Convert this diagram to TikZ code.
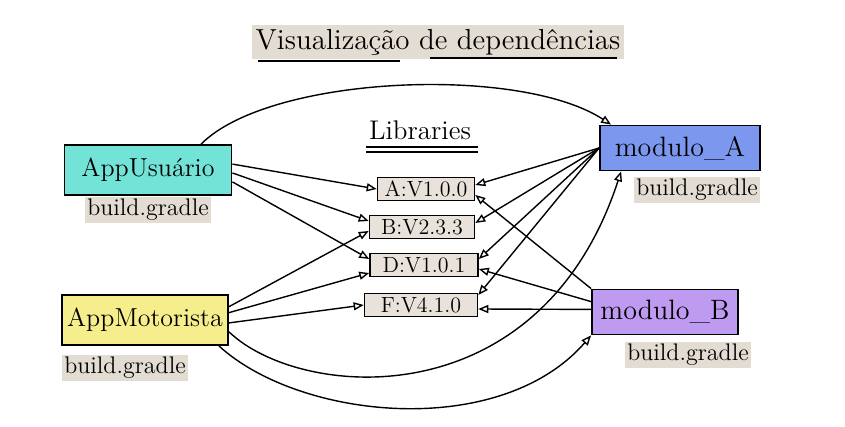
\documentclass[tikz,border=0pt]{standalone}
\usetikzlibrary{arrows.meta}
\definecolor{usrfill}{HTML}{73E3D8}
\definecolor{motfill}{HTML}{F6EE8C}
\definecolor{modafill}{HTML}{7C98EE}
\definecolor{modbfill}{HTML}{BE9AF0}
\definecolor{libfill}{HTML}{E8E2DA}
\definecolor{hilite}{HTML}{E3DCD3}
\tikzset{
  appbox/.style={draw, line width=0.9pt, minimum height=25pt, inner sep=2pt, font=\fontsize{13}{15}\selectfont},
  modbox/.style={draw, line width=0.9pt, minimum height=22.5pt, inner sep=2pt, font=\fontsize{14}{16}\selectfont},
  libbox/.style={draw, fill=libfill, line width=0.8pt, minimum height=11.5pt, inner sep=1pt, font=\fontsize{11}{12}\selectfont},
  gradle/.style={fill=hilite, minimum width=60pt, minimum height=12pt, inner sep=1pt, font=\fontsize{12}{13}\selectfont},
  dep/.style={-{Triangle[open,length=5pt,width=4pt]}, line width=0.7pt},
}
\begin{document}
\begin{tikzpicture}[x=0.5pt,y=-0.5pt]
\useasboundingbox[fill=white] (0,0) rectangle (845,427);

% title and heading
\node[fill=hilite, inner sep=2pt, font=\fontsize{14.5}{16}\selectfont] (title) at (438,42) {Visualização de dependências};
\draw[line width=0.8pt] (258,61) -- (400,61);
\draw[line width=0.8pt] (430,58) -- (617,58);
\node[font=\fontsize{13.5}{15}\selectfont] (libttl) at (420,130) {Libraries};
\draw[line width=0.8pt] (366,147) -- (478,147);
\draw[line width=0.8pt] (366,152) -- (478,152);

% apps
\node[appbox, fill=usrfill, minimum width=83.5pt] (usr) at (148,170) {AppUsuário};
\node[gradle] (usrgr) at (148,210) {build.gradle};
\node[appbox, fill=motfill, minimum width=83pt] (mot) at (145,320) {AppMotorista};
\node[gradle] (motgr) at (125,368) {build.gradle};

% modules
\node[modbox, fill=modafill, minimum width=80pt] (modA) at (680,148) {modulo\_A};
\node[gradle] (modAgr) at (697,190) {build.gradle};
\node[modbox, fill=modbfill, minimum width=73pt] (modB) at (665,312) {modulo\_B};
\node[gradle] (modBgr) at (688,355) {build.gradle};

% libraries
\node[libbox, minimum width=48.5pt] (libA) at (426,189) {A:V1.0.0};
\node[libbox, minimum width=52.5pt] (libB) at (422,227) {B:V2.3.3};
\node[libbox, minimum width=54pt] (libD) at (424,265) {D:V1.0.1};
\node[libbox, minimum width=56.5pt] (libF) at (421,305) {F:V4.1.0};

% AppUsuario
\draw[dep] (usr.26) .. controls (270,75) and (520,65) .. ([xshift=6pt]modA.north west);
\draw[dep] (usr.4) -- (libA.west);
\draw[dep] (usr.-2) -- ([yshift=3pt]libB.west);
\draw[dep] (usr.-8) -- ([yshift=3pt]libD.west);

% AppMotorista
\draw[dep] (mot.9) -- ([yshift=-2pt]libB.west);
\draw[dep] (mot.5) -- ([yshift=-4pt]libD.west);
\draw[dep] (mot.-2) -- (libF.west);
\draw[dep] (mot.-8) .. controls (300,400) and (540,420) .. ([xshift=11pt]modA.south west);
\draw[dep] ([xshift=-5pt]mot.south east) .. controls (300,420) and (500,440) .. (modB.south west);

% modulo_A
\draw[dep] (modA.west) -- ([yshift=2pt]libA.east);
\draw[dep] (modA.west) -- ([yshift=2pt]libB.east);
\draw[dep] (modA.west) -- ([yshift=3pt]libD.east);
\draw[dep] (modA.west) -- ([yshift=5pt]libF.east);

% modulo_B
\draw[dep] (modB.north west) -- ([yshift=-3pt]libA.east);
\draw[dep] (modB.172) -- ([yshift=-2pt]libD.east);
\draw[dep] (modB.178) -- ([yshift=-2pt]libF.east);
\end{tikzpicture}
\end{document}
